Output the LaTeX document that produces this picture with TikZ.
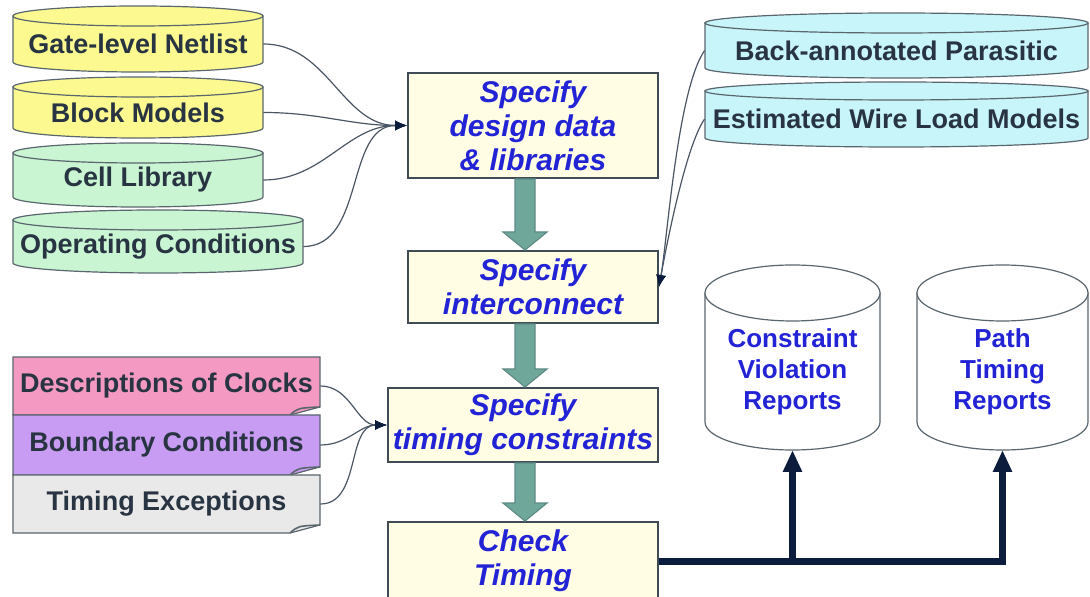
\documentclass[tikz,border=0pt]{standalone}
\usepackage{fontspec}
\setmainfont{Liberation Sans}
\usepackage{xcolor}
\usetikzlibrary{arrows,arrows.meta,calc,positioning}

\definecolor{netyellow}{HTML}{FBF98F}
\definecolor{libgreen}{HTML}{C9F5D3}
\definecolor{wirecyan}{HTML}{C8F5FA}
\definecolor{clockpink}{HTML}{F49AC2}
\definecolor{boundlilac}{HTML}{C79CF2}
\definecolor{excgray}{HTML}{E9E9E9}
\definecolor{boxcream}{HTML}{FFFDE3}
\definecolor{boxedge}{HTML}{3F4B55}
\definecolor{steptext}{HTML}{2323D6}
\definecolor{labeltext}{HTML}{283442}
\definecolor{rimline}{HTML}{5A666E}
\definecolor{flowfill}{HTML}{6FA89B}
\definecolor{flowedge}{HTML}{5E8A86}
\definecolor{wire}{HTML}{4A5663}
\definecolor{navy}{HTML}{0B1C3D}

\tikzset{
        stepbox/.style = {draw=boxedge, fill=boxcream, line width=1pt,
            rectangle, align=center, inner sep=1pt, text=steptext,
            font=\fontsize{15}{17}\selectfont\bfseries\itshape},
        drumlabel/.style = {inner sep=0pt, align=center, text=labeltext,
            font=\fontsize{13.5}{16}\selectfont\bfseries},
        reportlabel/.style = {drumlabel, text=steptext,
            font=\fontsize{13}{15.5}\selectfont\bfseries},
        taglabel/.style = {drumlabel, minimum width=153.5pt},
        feed/.style = {draw=wire, line width=0.6pt,
            -{Latex[length=6pt,width=5pt,color=navy]}},
        report/.style = {draw=navy, line width=3.5pt,
            -{Triangle[length=11pt,width=9pt]}},
        flow/.style = {draw=flowedge, fill=flowfill, line width=0.6pt,
            to path={let \p1=(\tikztostart), \p2=(\tikztotarget) in
                (\x1-5pt,\y1) -- (\x1-5pt,\y2+9pt) -- (\x1-11pt,\y2+9pt) -- (\x1,\y2)
                -- (\x1+11pt,\y2+9pt) -- (\x1+5pt,\y2+9pt) -- (\x1+5pt,\y1) -- cycle}},
    }

% name, left, right, top rim, bottom rim, rim depth, fill, label style, text
\newcommand{\dbdrum}[9]{%
    \pgfmathsetmacro{\drumrx}{(#3-#2)/4}
    \pgfmathsetmacro{\drumry}{#6/2}
    \pgfmathsetmacro{\drumw}{(#3-#2)/2}
    \filldraw[fill=#7, draw=rimline, line width=0.6pt] (#2,#4) -- (#2,#5)
        arc[start angle=180, end angle=360, x radius=\drumrx pt, y radius=\drumry pt]
        -- (#3,#4) -- cycle;
    \filldraw[fill=#7, draw=rimline, line width=0.6pt] ({(#2+#3)/2},#4)
        ellipse[x radius=\drumrx pt, y radius=\drumry pt];
    \node[#8, minimum width=\drumw pt] (#1) at ({(#2+#3)/2},{(#4+#5+#6)/2}) {#9};
    \coordinate (#1-base) at ({(#2+#3)/2},{#5+#6});
}

% name, top, bottom, fill, text
\newcommand{\notetag}[5]{%
    \filldraw[fill=#4, draw=rimline, line width=0.6pt] (13,#2) -- (320,#2)
        -- (320,#3-8) -- (290,#3) -- (13,#3) -- cycle;
    \draw[rimline, line width=0.8pt] (290,#3) .. controls (298,#3-7) .. (320,#3-8);
    \node[taglabel] (#1) at (166.5,{(#2+#3)/2}) {#5};
}

\begin{document}
\begin{tikzpicture}[x=0.5pt, y=-0.5pt]
    \clip (0,0) rectangle (1090,597);

    % design data
    \dbdrum{gate}{13}{263}{16}{62}{10}{netyellow}{drumlabel}{Gate-level Netlist}
    \dbdrum{block}{13}{263}{87}{128}{10}{netyellow}{drumlabel}{Block Models}
    \dbdrum{cell}{13}{263}{153}{197}{10}{libgreen}{drumlabel}{Cell Library}
    \dbdrum{oper}{13}{303}{220}{263}{10}{libgreen}{drumlabel}{Operating Conditions}
    % parasitics
    \dbdrum{para}{705}{1088}{23}{68}{10}{wirecyan}{drumlabel}{Back-annotated Parasitic}
    \dbdrum{wlm}{705}{1088}{91}{138}{9}{wirecyan}{drumlabel}{Estimated Wire Load Models}
    % reports
    \dbdrum{cvr}{705}{880}{293}{422}{28}{white}{reportlabel}{Constraint\\Violation\\Reports}
    \dbdrum{ptr}{917}{1088}{293}{422}{28}{white}{reportlabel}{Path\\Timing\\Reports}

    % constraints
    \notetag{clk}{357}{415}{clockpink}{Descriptions of Clocks}
    \notetag{bnd}{415}{475}{boundlilac}{Boundary Conditions}
    \notetag{exc}{475}{533}{excgray}{Timing Exceptions}

    \node[stepbox, minimum width=125pt, minimum height=52.5pt] (design) at (533,125.5)
        {Specify\\design data\\\& libraries};
    \node[stepbox, minimum width=125pt, minimum height=36pt] (inter) at (533,287)
        {Specify\\interconnect};
    \node[stepbox, minimum width=135pt, minimum height=37pt] (cons) at (523,425)
        {Specify\\timing constraints};
    \node[stepbox, minimum width=135pt, minimum height=39pt] (check) at (523,561)
        {Check\\Timing};

    \coordinate (spine) at (525,0);
    \path[flow] (spine |- design.south) to (spine |- inter.north);
    \path[flow] (spine |- inter.south) to (spine |- cons.north);
    \path[flow] (spine |- cons.south) to (spine |- check.north);

    \foreach \src in {gate,block,cell,oper}
        \draw[feed] (\src.east) to[out=0, in=180] (design.west);
    \foreach \src in {para,wlm}
        \draw[feed] (\src.west) to[out=235, in=80, looseness=0.5] (inter.east);
    \foreach \src in {clk,bnd,exc}
        \draw[feed] (\src.east) to[out=0, in=180] (cons.west);

    \draw[report] (check.east) -| (ptr-base);
    \draw[report] (check.east -| cvr-base) -- (cvr-base);
\end{tikzpicture}
\end{document}
